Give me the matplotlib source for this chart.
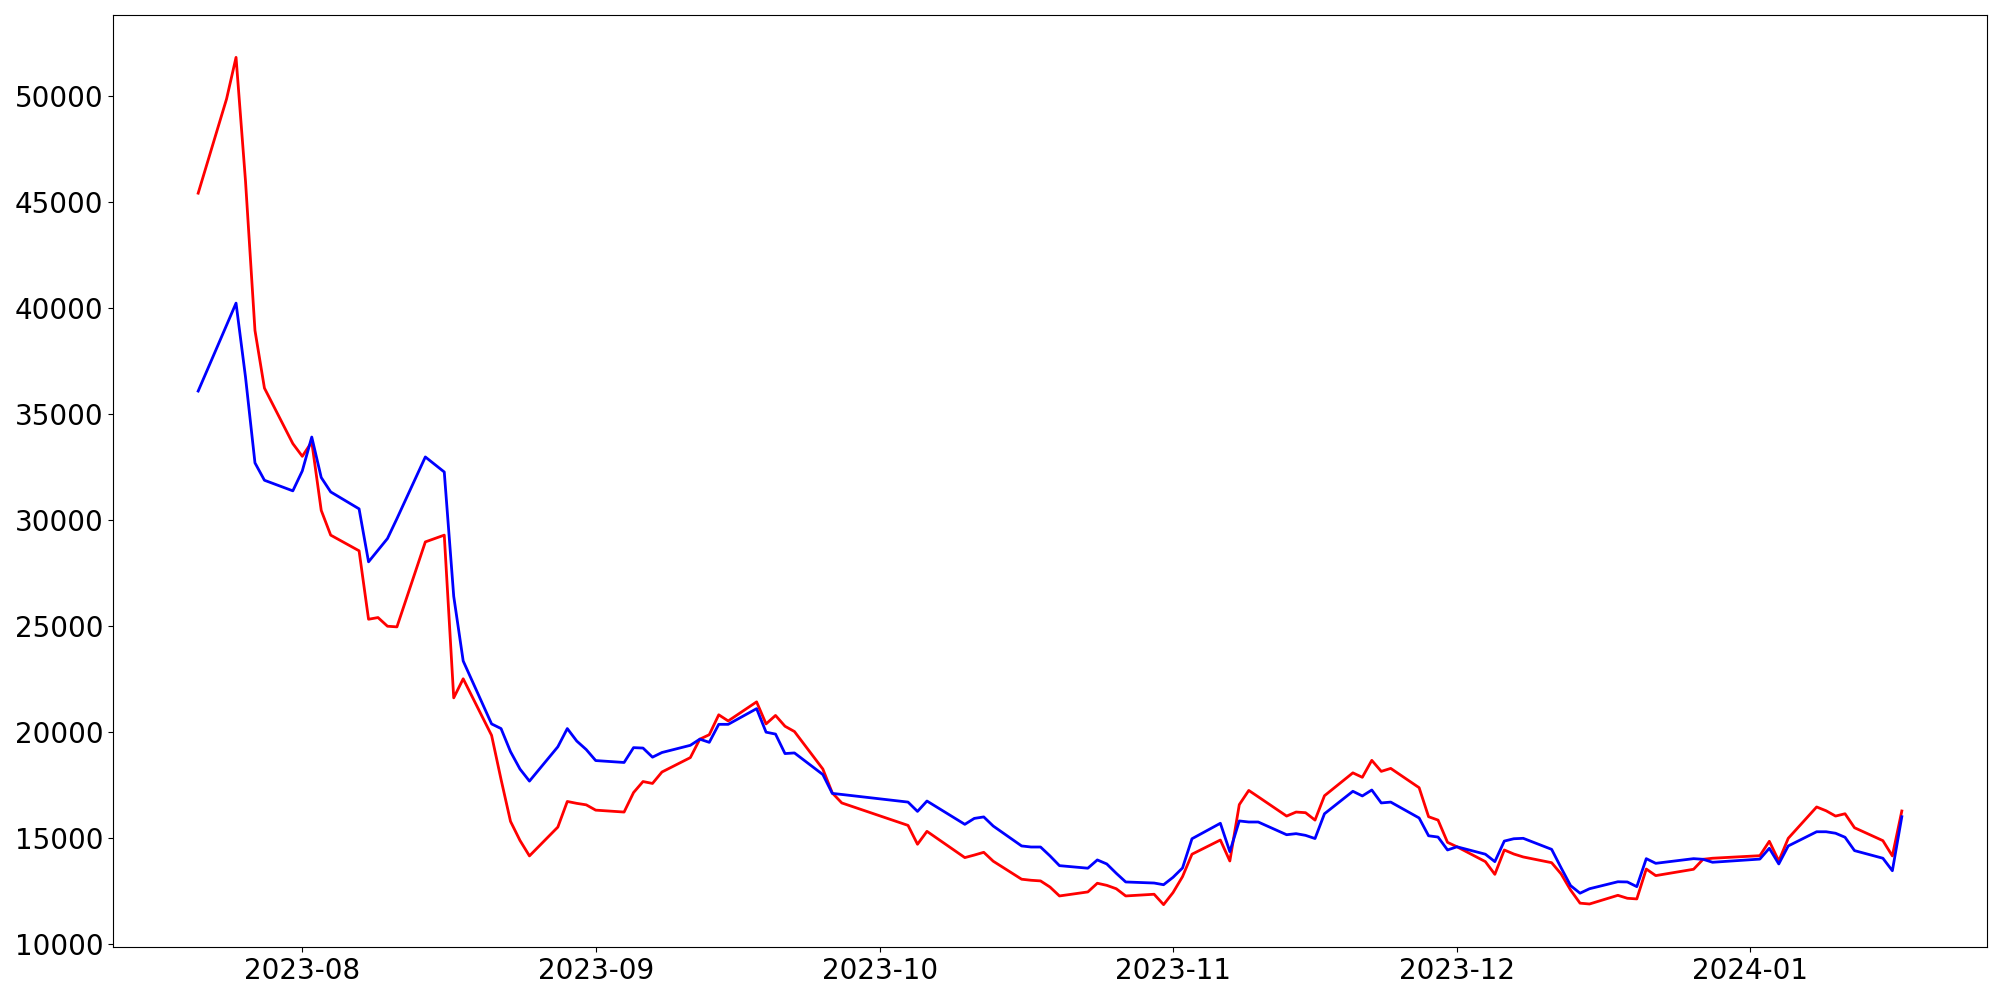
import matplotlib
matplotlib.use('Agg')
import matplotlib.pyplot as plt
import pandas as pd

# KRX trading days, Jul 21 2023 .. Jan 17 2024
holidays = ['2023-08-15', '2023-09-28', '2023-09-29', '2023-10-02', '2023-10-03',
            '2023-10-09', '2023-12-25', '2023-12-29', '2024-01-01']
dates = pd.bdate_range('2023-07-21', '2024-01-17', freq='C', holidays=holidays)

red = [45430, 49880, 51840, 46000, 38950, 36230, 33610, 33010, 33690, 30460,
       29290, 28550, 25320, 25400, 24990, 24960, 28970, 29290, 21610, 22510,
       19840, 17760, 15780, 14880, 14150, 15510, 16720, 16630, 16560, 16310,
       16220, 17140, 17660, 17570, 18110, 18790, 19660, 19870, 20810, 20520,
       21420, 20380, 20780, 20270, 20020, 18250, 17120, 16650, 15590, 14700,
       15310, 14070, 14190, 14320, 13900, 13050, 13000, 12970, 12680, 12260,
       12450, 12860, 12760, 12600, 12260, 12340, 11850, 12420, 13170, 14230,
       14900, 13910, 16570, 17240, 16940, 16030, 16220, 16190, 15840, 16990,
       18070, 17860, 18660, 18140, 18280, 17370, 16000, 15840, 14790, 14580,
       13880, 13280, 14430, 14240, 14100, 13830, 13300, 12540, 11920, 11880,
       12290, 12150, 12120, 13530, 13220, 13520, 13990, 14040, 14160, 14840,
       13910, 14980, 16460, 16280, 16030, 16140, 15480, 14870, 14150, 16270]

blue = [36090, 39200, 40240, 36750, 32700, 31880, 31380, 32320, 33920, 32010,
        31330, 30530, 28030, 28580, 29130, 30070, 32980, 32270, 26400, 23350,
        20380, 20160, 19070, 18250, 17680, 19300, 20160, 19570, 19170, 18650,
        18560, 19260, 19240, 18810, 19030, 19370, 19660, 19510, 20360, 20360,
        21100, 19990, 19900, 18980, 19010, 17990, 17100, 17050, 16690, 16250,
        16740, 15640, 15920, 15990, 15560, 14620, 14570, 14570, 14150, 13690,
        13570, 13960, 13770, 13330, 12920, 12870, 12790, 13140, 13580, 14960,
        15690, 14350, 15800, 15750, 15750, 15150, 15200, 15120, 14970, 16140,
        17200, 16980, 17260, 16650, 16690, 15940, 15100, 15040, 14430, 14580,
        14230, 13880, 14850, 14960, 14980, 14460, 13590, 12750, 12390, 12600,
        12930, 12920, 12700, 14020, 13800, 14020, 13990, 13850, 14000, 14510,
        13770, 14620, 15290, 15290, 15220, 15030, 14400, 14040, 13450, 16000]

fig, ax = plt.subplots(figsize=(20, 10), dpi=100)
ax.plot(dates, red, 'r-', linewidth=2)
ax.plot(dates, blue, 'b-', linewidth=2)
ax.tick_params(labelsize=20)
plt.subplots_adjust(left=0.0565, right=0.9935, top=0.985, bottom=0.053)
plt.savefig('out.png')
